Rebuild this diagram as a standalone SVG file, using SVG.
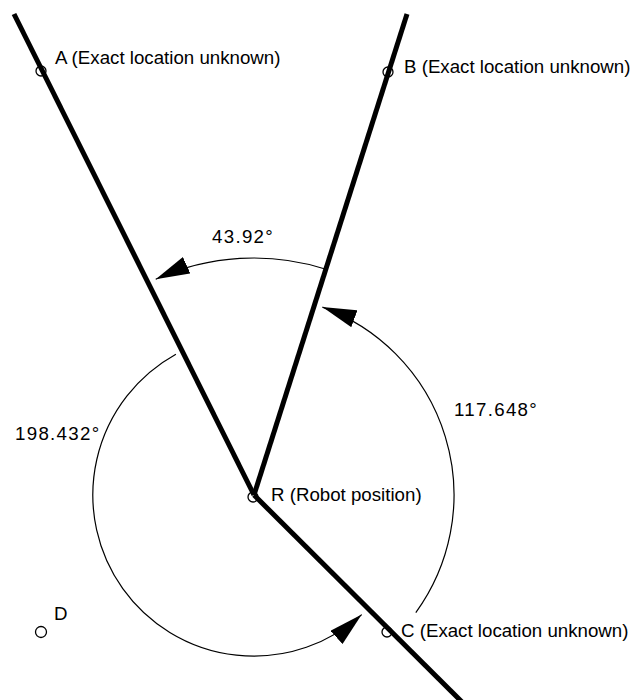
<svg xmlns="http://www.w3.org/2000/svg" width="631" height="700" viewBox="0 0 631 700">
<style>
  .ray { stroke: #000; stroke-width: 5; fill: none; stroke-linecap: butt; }
  .arc { stroke: #000; stroke-width: 1.2; fill: none; }
  .pt { stroke: #000; stroke-width: 1.3; fill: none; }
  .lbl { font-family: "Liberation Sans", Arial, sans-serif; font-size: 18.7px; fill: #000; }
  .num { font-family: "Liberation Sans", Arial, sans-serif; font-size: 18.7px; fill: #000; letter-spacing: 1.3px; }
</style>
<defs>
  <marker id="arrow" viewBox="0 0 34 18" refX="34" refY="9" markerWidth="34" markerHeight="18" markerUnits="userSpaceOnUse" orient="auto">
    <path d="M0,0 L34,9 L0,18 z" fill="#000"/>
  </marker>
</defs>
<rect width="631" height="700" fill="#fff"/>
<g id="connectors">
  <line class="ray" x1="254" y1="495" x2="14" y2="14"/>
  <line class="ray" x1="254" y1="495" x2="407" y2="14"/>
  <line class="ray" x1="254" y1="495" x2="462" y2="702"/>
  <path class="arc" d="M325.9,269.2 A237,237 0 0 0 155.7,279.3" marker-end="url(#arrow)"/>
  <path class="arc" d="M415.8,612.6 A200,200 0 0 0 322.4,307.1" marker-end="url(#arrow)"/>
  <path class="arc" d="M175.9,354.2 A161,161 0 1 0 361.7,614.6" marker-end="url(#arrow)"/>
</g>
<g id="angle-labels">
  <text class="num" x="212" y="243">43.92°</text>
  <text class="num" x="454" y="416">117.648°</text>
  <text class="num" x="15" y="440">198.432°</text>
</g>
<g id="node-A">
  <circle class="pt" cx="41" cy="71" r="5"/>
  <text class="lbl" x="55" y="64">A (Exact location unknown)</text>
</g>
<g id="node-B">
  <circle class="pt" cx="388" cy="72" r="5"/>
  <text class="lbl" x="404" y="73">B (Exact location unknown)</text>
</g>
<g id="node-R">
  <circle class="pt" cx="253" cy="497" r="5"/>
  <text class="lbl" x="271" y="501">R (Robot position)</text>
</g>
<g id="node-C">
  <circle class="pt" cx="387" cy="632" r="5"/>
  <text class="lbl" x="401" y="637">C (Exact location unknown)</text>
</g>
<g id="node-D">
  <circle class="pt" cx="41" cy="632" r="5.5"/>
  <text class="lbl" x="54" y="620">D</text>
</g>
</svg>
